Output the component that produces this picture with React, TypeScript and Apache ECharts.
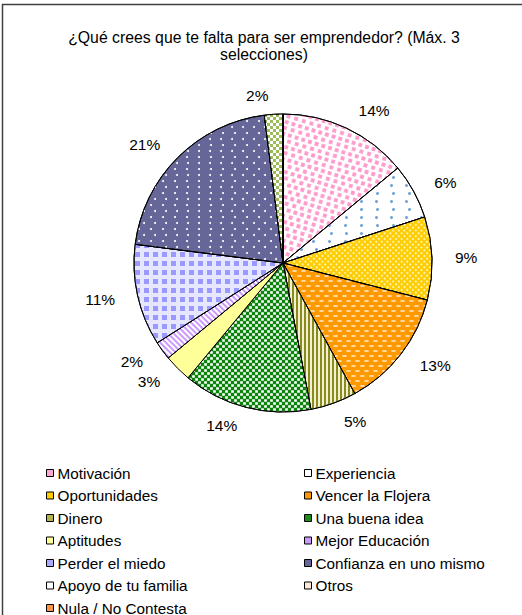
import React, { useEffect, useRef } from 'react';
import * as echarts from 'echarts';

const TITLE_LINES = ['¿Qué crees que te falta para ser emprendedor? (Máx. 3', 'selecciones)'];

const categories = [
  'Motivación',
  'Experiencia',
  'Oportunidades',
  'Vencer la Flojera',
  'Dinero',
  'Una buena idea',
  'Aptitudes',
  'Mejor Educación',
  'Perder el miedo',
  'Confianza en uno mismo',
  'Apoyo de tu familia',
  'Otros',
  'Nula / No Contesta',
];

const values = [14, 6, 9, 13, 5, 14, 3, 2, 11, 21, 2, 0, 0];

const leftLegendNames = [
  'Motivación',
  'Oportunidades',
  'Dinero',
  'Aptitudes',
  'Perder el miedo',
  'Apoyo de tu familia',
  'Nula / No Contesta',
];
const rightLegendNames = [
  'Experiencia',
  'Vencer la Flojera',
  'Una buena idea',
  'Mejor Educación',
  'Confianza en uno mismo',
  'Otros',
];

const FONT = "'Liberation Sans', Arial, sans-serif";

const sliceStyles: any[] = [
  { color: '#ffffff', decal: { symbol: 'rect', color: '#ff99cc', dashArrayX: [[4, 3], [0, 3.5, 4, 0]], dashArrayY: [4, 1.5], symbolSize: 0.95, rotation: 0.3 } },
  { color: '#ffffff', decal: { symbol: 'circle', color: '#6f9fd8', dashArrayX: [[2.5, 12], [0, 7.25, 2.5, 4.75]], dashArrayY: [2.5, 4.5], symbolSize: 1 } },
  { color: '#ffcc00', decal: { symbol: 'rect', color: '#fff2a8', dashArrayX: [1.6, 1.8], dashArrayY: [1.6, 1.8], symbolSize: 1, symbolKeepAspect: false, rotation: Math.PI / 4 } },
  { color: '#ff9900', decal: { symbol: 'rect', color: '#ffe2b8', dashArrayX: [[5, 4], [0, 4, 5, 0]], dashArrayY: [2, 2.5], symbolSize: 0.85, symbolKeepAspect: false } },
  { color: '#f2f2d0', decal: { symbol: 'rect', color: '#8a8a1f', dashArrayX: [2, 2], dashArrayY: [10, 0], symbolSize: 1, symbolKeepAspect: false } },
  { color: '#0a840a', decal: { symbol: 'rect', color: '#ffffff', dashArrayX: [[3, 3], [0, 3, 3, 0]], dashArrayY: [3, 0], symbolSize: 0.9, symbolKeepAspect: false } },
  { color: '#ffff99' },
  { color: '#cc99ff', decal: { symbol: 'rect', color: '#ffffff', dashArrayX: [1.5, 2], dashArrayY: [10, 0], symbolSize: 1, symbolKeepAspect: false, rotation: -Math.PI / 4 } },
  { color: '#e6e6ff', decal: { symbol: 'rect', color: '#9999ff', dashArrayX: [5, 4], dashArrayY: [5, 4], symbolSize: 1, symbolKeepAspect: false } },
  { color: '#666699', decal: { symbol: 'circle', color: '#ffffff', dashArrayX: [[2, 9], [0, 5.5, 2, 3.5]], dashArrayY: [2, 3.5], symbolSize: 1 } },
  { color: '#9bbb59', decal: { symbol: 'rect', color: '#ffffff', dashArrayX: [[3, 3], [0, 3, 3, 0]], dashArrayY: [3, 0], symbolSize: 1, symbolKeepAspect: false } },
  { color: '#fde9d9' },
  { color: '#f79646' },
];

const legendColors: Record<string, string> = {
  'Motivación': '#f9a8cf',
  'Experiencia': '#ffffff',
  'Oportunidades': '#ffcc00',
  'Vencer la Flojera': '#ff9900',
  'Dinero': '#b3b34d',
  'Una buena idea': '#1a8a1a',
  'Aptitudes': '#ffff99',
  'Mejor Educación': '#cc99ff',
  'Perder el miedo': '#aaaaff',
  'Confianza en uno mismo': '#666699',
  'Apoyo de tu familia': '#ffffff',
  'Otros': '#fde9d9',
  'Nula / No Contesta': '#f79646',
};

function legendData(names: string[]) {
  return names.map((n) => ({
    name: n,
    icon: 'rect',
    itemStyle: { color: legendColors[n], borderColor: '#000000', borderWidth: 1, decal: 'none' },
  }));
}

export default function App() {
  const ref = useRef<HTMLDivElement>(null);
  useEffect(() => {
    if (!ref.current) return;
    const chart = echarts.init(ref.current, null, { renderer: 'svg' });
    const legendCommon = {
      orient: 'vertical',
      itemWidth: 7,
      itemHeight: 7,
      itemGap: 5.5,
      height: 200,
      selectedMode: false,
      padding: 0,
      textStyle: { fontFamily: FONT, fontSize: 15.3, color: '#000', lineHeight: 17, padding: [0, 0, 0, -1] },
    };
    chart.setOption({
      animation: false,
      backgroundColor: '#ffffff',
      graphic: [
        {
          type: 'rect',
          shape: { x: 2.5, y: 4.5, width: 700, height: 800 },
          style: { fill: 'none', stroke: '#404040', lineWidth: 1.5 },
          silent: true,
        },
        {
          type: 'text',
          x: 264,
          y: 29,
          style: {
            text: TITLE_LINES.join('\n'),
            textAlign: 'center',
            textVerticalAlign: 'top',
            font: `15.8px ${FONT}`,
            lineHeight: 17,
            fill: '#000',
          },
          silent: true,
        },
      ],
      legend: [
        { ...legendCommon, left: 46, top: 464.5, data: legendData(leftLegendNames) },
        { ...legendCommon, left: 304, top: 464.5, data: legendData(rightLegendNames) },
      ],
      series: [
        {
          type: 'pie',
          center: [283, 263],
          radius: 149,
          startAngle: 90,
          clockwise: true,
          avoidLabelOverlap: false,
          itemStyle: { borderColor: '#000000', borderWidth: 1 },
          label: {
            show: true,
            position: 'outside',
            fontFamily: FONT,
            fontSize: 15.5,
            color: '#000',
            distanceToLabelLine: 4,
            formatter: (p: any) => (p.value > 0 ? Math.round(p.percent) + '%' : ''),
          },
          labelLine: { show: false, length: 19, length2: 0 },
          emphasis: { disabled: true },
          data: categories.map((c, i) => ({
            name: c,
            value: values[i],
            itemStyle: sliceStyles[i],
          })),
        },
      ],
    });
    return () => chart.dispose();
  }, []);
  return (
    <div
      ref={ref}
      style={{ position: 'absolute', left: 0, top: 0, width: 522, height: 615 }}
    />
  );
}
